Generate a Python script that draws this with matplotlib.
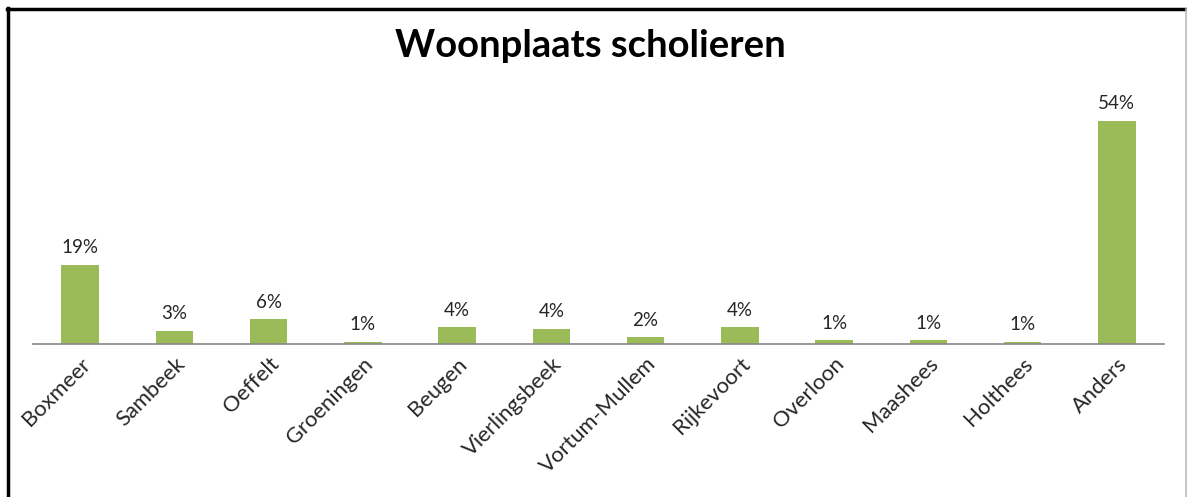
import matplotlib
matplotlib.use('Agg')
import matplotlib.pyplot as plt
from matplotlib.lines import Line2D

# woonplaats van scholieren, percentage per plaats
plaatsen = ['Boxmeer', 'Sambeek', 'Oeffelt', 'Groeningen', 'Beugen', 'Vierlingsbeek',
            'Vortum-Mullem', 'Rijkevoort', 'Overloon', 'Maashees', 'Holthees', 'Anders']
percentages = [19.2, 3.2, 6.0, 0.6, 4.1, 3.7, 1.7, 4.1, 1.0, 1.0, 0.6, 54.0]

plt.rcParams['font.family'] = ['Lato', 'DejaVu Sans']

fig = plt.figure(figsize=(11.87, 4.97), dpi=100)
ax = fig.add_axes([0.0278, 0.3078, 0.9528, 0.499])

x = range(len(plaatsen))
bars = ax.bar(x, percentages, width=0.4, color='#9BBB59')
for b, v in zip(bars, percentages):
    ax.annotate(f'{v:.0f}%', (b.get_x() + b.get_width()/2, v), xytext=(0, 6),
                textcoords='offset points', ha='center', va='bottom',
                fontsize=13.5, color='#262626')

ax.set_xlim(-0.5, len(plaatsen) - 0.5)
ax.set_ylim(0, 60)
ax.set_xticks(list(x))
ax.set_xticklabels(plaatsen, rotation=45, ha='right', rotation_mode='anchor',
                   fontsize=15.8, color='#262626')
ax.tick_params(axis='x', length=0, pad=7)
ax.set_yticks([])
for s in ['top', 'right', 'left']:
    ax.spines[s].set_visible(False)
ax.spines['bottom'].set_color('#888888')
ax.spines['bottom'].set_linewidth(1.2)

fig.text(0.497, 0.907, 'Woonplaats scholieren', ha='center', va='center',
         fontsize=27.5, fontweight='bold', color='black')

# kader van de screenshot
fig.add_artist(Line2D([7.5/1187, 7.5/1187], [0, 1 - 8/497], transform=fig.transFigure,
                      color='black', lw=2.5))
fig.add_artist(Line2D([6.5/1187, 1], [1 - 8.5/497, 1 - 8.5/497], transform=fig.transFigure,
                      color='black', lw=2.5))
fig.add_artist(Line2D([1185.5/1187, 1185.5/1187], [0, 1 - 9/497], transform=fig.transFigure,
                      color='#bbbbbb', lw=1.2))

fig.savefig('out.png', dpi=100)
